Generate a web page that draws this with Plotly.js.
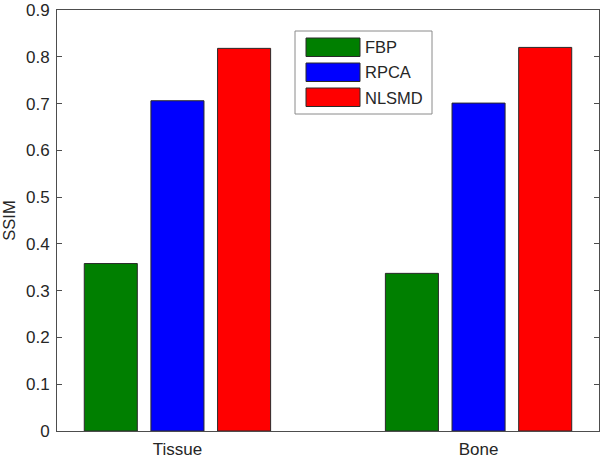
<!DOCTYPE html>
<html>
<head>
<meta charset="utf-8">
<script src="https://cdn.plot.ly/plotly-3.0.1.min.js"></script>
<style>html,body{margin:0;padding:0;background:#fff;}#chart{width:600px;height:461px;}</style>
</head>
<body>
<div id="chart"></div>
<script>
const categories = ["Tissue", "Bone"];
const seriesNames = ["FBP", "RPCA", "NLSMD"];
const fbp = [0.358, 0.337];
const rpca = [0.706, 0.701];
const nlsmd = [0.818, 0.820];
const colors = ["#007f00", "#0000ff", "#ff0000"];
const yTickVals = [0, 0.1, 0.2, 0.3, 0.4, 0.5, 0.6, 0.7, 0.8, 0.9];
const yTickText = ["0", "0.1", "0.2", "0.3", "0.4", "0.5", "0.6", "0.7", "0.8", "0.9"];

const W = 600, H = 461;
const M = {l: 57, r: 1, t: 10, b: 30};
const pw = W - M.l - M.r, ph = H - M.t - M.b;
const px = x => (x - M.l) / pw;
const py = y => 1 - (y - M.t) / ph;

const values = [fbp, rpca, nlsmd];
const traces = values.map((v, i) => ({
  type: "bar",
  x: categories,
  y: v,
  name: seriesNames[i],
  marker: {color: colors[i], line: {color: "#2a2a2a", width: 1}},
  showlegend: false,
  hoverinfo: "skip"
}));

const fam = "Arial, 'Liberation Sans', Helvetica, sans-serif";
const font = {family: fam, size: 17, color: "#262626"};
const legFont = {family: fam, size: 16.5, color: "#262626"};

const shapes = [{
  type: "rect", xref: "paper", yref: "paper",
  x0: px(295), x1: px(432), y0: py(114), y1: py(31),
  line: {color: "#8a8a8a", width: 1}, fillcolor: "#ffffff", layer: "above"
}];
const annotations = [];
const rowTop = [38, 63, 88];
seriesNames.forEach((n, i) => {
  shapes.push({
    type: "rect", xref: "paper", yref: "paper",
    x0: px(306), x1: px(360), y0: py(rowTop[i] + 18.5), y1: py(rowTop[i]),
    line: {color: "#2a2a2a", width: 1}, fillcolor: colors[i], layer: "above"
  });
  annotations.push({
    xref: "paper", yref: "paper", x: px(363), y: py(rowTop[i] + 9.5),
    xanchor: "left", yanchor: "middle", text: n, showarrow: false, font: legFont
  });
});

const layout = {
  width: W, height: H,
  margin: M,
  paper_bgcolor: "#fff", plot_bgcolor: "#fff",
  font: font,
  barmode: "group",
  bargap: 0.336,
  bargroupgap: 0.204,
  xaxis: {
    type: "category", range: [-0.4, 1.4],
    showline: true, mirror: true, linecolor: "#4d4d4d", linewidth: 1,
    ticks: "", showgrid: false, zeroline: false, fixedrange: true,
    tickfont: font, ticklabelstandoff: 3
  },
  yaxis: {
    range: [0, 0.9], tickvals: yTickVals, ticktext: yTickText,
    showline: true, mirror: "ticks", linecolor: "#4d4d4d", linewidth: 1,
    ticks: "inside", ticklen: 5, tickcolor: "#4d4d4d",
    showgrid: false, zeroline: false, fixedrange: true,
    tickfont: font, ticklabelstandoff: 3, ticklabeloverflow: "allow",
    title: {text: "SSIM", font: legFont, standoff: 10}
  },
  shapes: shapes,
  annotations: annotations
};

Plotly.newPlot("chart", traces, layout, {staticPlot: true, displayModeBar: false});
</script>
</body>
</html>
